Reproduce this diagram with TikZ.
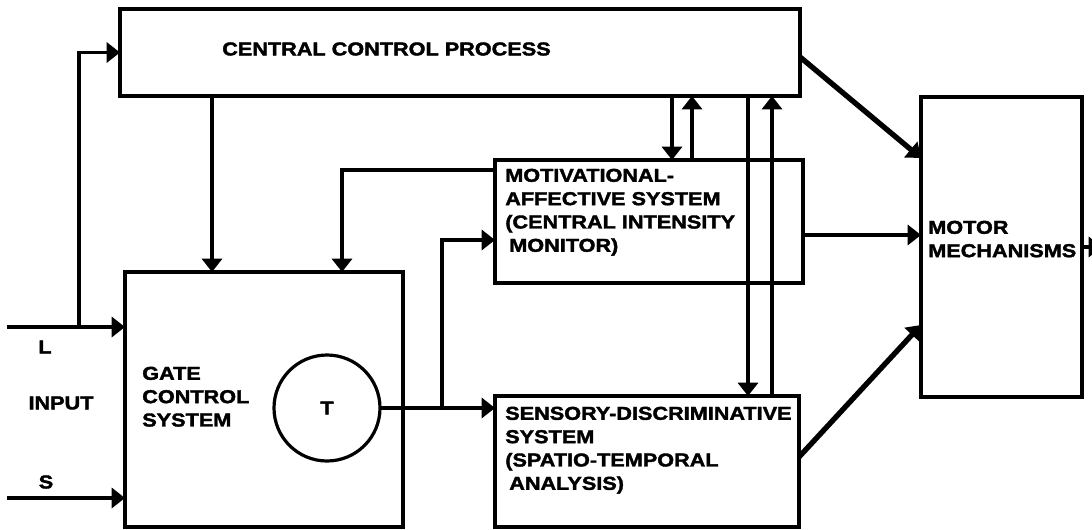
\documentclass[tikz,border=0pt]{standalone}
\usepackage{fontspec}
\newfontfamily\diagfont{Liberation Sans Bold}[FakeStretch=1.16, FakeBold=2]
\usetikzlibrary{arrows.meta}

\begin{document}
\begin{tikzpicture}[x=0.75pt, y=-0.75pt, >={Triangle[length=10pt,width=15pt]},
    box/.style={draw, line width=2.8pt, inner sep=0pt, outer sep=0pt, anchor=north west},
    caps/.style={inner sep=0pt, align=left, font=\fontsize{14pt}{17.5pt}\diagfont},
    link/.style={->, line width=2.6pt},
    heavy link/.style={->, line width=4pt}]
    \path[use as bounding box, clip] (0,0) rectangle (1092,529);

    % Boxes
    \node[box, minimum width={680*0.75pt}, minimum height={87*0.75pt}] (ccp) at (120,9) {};
    \node[box, minimum width={308*0.75pt}, minimum height={123*0.75pt}] (motiv) at (495,160) {};
    \node[box, minimum width={278*0.75pt}, minimum height={255*0.75pt}] (gate) at (125,272) {};
    \node[box, minimum width={304*0.75pt}, minimum height={131*0.75pt}] (sensory) at (495,396) {};
    \node[box, minimum width={161*0.75pt}, minimum height={300*0.75pt}] (motor) at (921,97) {};
    \node[draw, circle, caps, line width=2.4pt, outer sep=0pt, minimum size={106*0.75pt}] (T) at (327,408) {T};

    % Texts
    \node[caps, anchor=west] (ccptext) at (222,49) {CENTRAL CONTROL PROCESS};
    \node[caps, anchor=north west] (motivtext) at (505,168.5)
        {MOTIVATIONAL-\\AFFECTIVE SYSTEM\\(CENTRAL INTENSITY\\\hspace{3pt}MONITOR)};
    \node[caps, anchor=north west] (sensorytext) at (505,406.5)
        {SENSORY-DISCRIMINATIVE\\SYSTEM\\(SPATIO-TEMPORAL\\\hspace{3pt}ANALYSIS)};
    \node[caps, anchor=north west] (gatetext) at (142,366.5) {GATE\\CONTROL\\SYSTEM};
    \node[caps, anchor=north west] (motortext) at (928,220.5) {MOTOR\\MECHANISMS};
    \node[caps] (ltext) at (45,347) {L};
    \node[caps] (inputtext) at (61,403) {INPUT};
    \node[caps] (stext) at (46,482) {S};

    % Inputs
    \coordinate (Lin) at (7,327);
    \coordinate (Sin) at (7,498);
    \coordinate (Lsplit) at (79,327);
    \draw[link] (Lin) -- (gate.west |- Lin);
    \draw[link] (Sin) -- (gate.west |- Sin);
    \draw[link] (Lsplit) |- (ccp.west);

    % Central control and feedback to gate
    \draw[link] (ccp.south -| 212,0) -- (gate.north -| 212,0);
    \draw[link] (motiv.west |- 0,170) -| (gate.north -| 342,0);

    % Transmission cells out
    \draw[link] (T.east) -- (sensory.west |- T.east);
    \draw[link] (T.east -| 442,0) |- (motiv.west |- 0,240);

    % Central control <-> systems
    \draw[link] (ccp.south -| 672,0) -- (motiv.north -| 672,0);
    \draw[link] (motiv.north -| 692,0) -- (ccp.south -| 692,0);
    \draw[link] (ccp.south -| 748,0) -- (sensory.north -| 748,0);
    \draw[link] (sensory.north -| 772,0) -- (ccp.south -| 772,0);

    % Motor mechanisms
    \draw[heavy link] (ccp.east |- 0,57) -- (motor.west |- 0,158);
    \draw[link] (motiv.east |- 0,235) -- (motor.west |- 0,235);
    \draw[heavy link] (sensory.east |- 0,457) -- (motor.west |- 0,325);
    \draw[link] (motor.east) -- ++(20,0);
\end{tikzpicture}
\end{document}
